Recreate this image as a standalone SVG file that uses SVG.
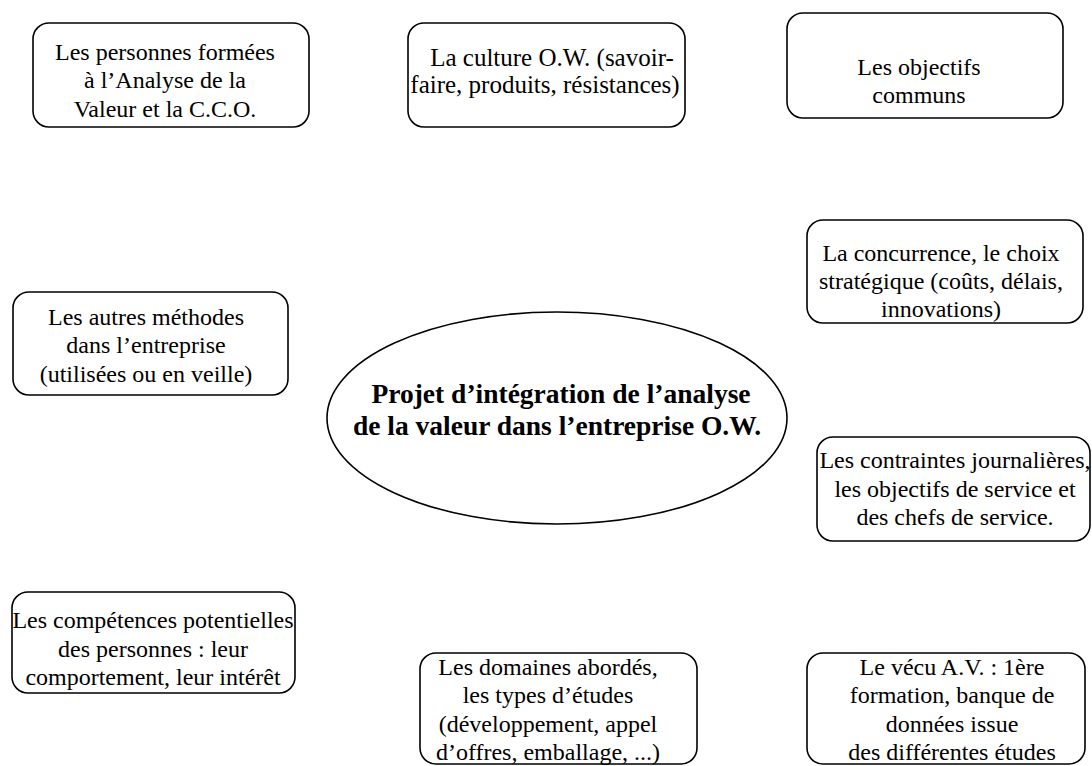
<svg xmlns="http://www.w3.org/2000/svg" width="1092" height="766" viewBox="0 0 1092 766">
<style>
.box{fill:#fff;stroke:#000;stroke-width:1.6}
.t{font-family:"Liberation Serif","Times New Roman",serif;font-size:24px;fill:#000;text-anchor:middle}
.b{font-family:"Liberation Serif","Times New Roman",serif;font-size:27.5px;font-weight:bold;fill:#000;text-anchor:middle}
</style>
<rect width="1092" height="766" fill="#fff"/>
<g id="connectors"></g>
<g id="n1"><rect class="box" x="33" y="23" width="276" height="104" rx="16"/>
<text class="t" x="165" y="60">Les personnes formées</text>
<text class="t" x="165" y="88">à l’Analyse de la</text>
<text class="t" x="165" y="117">Valeur et la C.C.O.</text></g>
<g id="n2"><rect class="box" x="408" y="23" width="277" height="104" rx="16"/>
<text class="t" x="552" y="66" style="font-size:25px">La culture O.W. (savoir-</text>
<text class="t" x="545" y="93" style="font-size:25px">faire, produits, résistances)</text></g>
<g id="n3"><rect class="box" x="787" y="13" width="276" height="105" rx="16"/>
<text class="t" x="919" y="75">Les objectifs</text>
<text class="t" x="919" y="103">communs</text></g>
<g id="n4"><rect class="box" x="807" y="220" width="276" height="103" rx="16"/>
<text class="t" x="941" y="261">La concurrence, le choix</text>
<text class="t" x="941" y="289">stratégique (coûts, délais,</text>
<text class="t" x="941" y="317">innovations)</text></g>
<g id="n5"><rect class="box" x="13" y="292" width="275" height="103" rx="16"/>
<text class="t" x="146" y="325">Les autres méthodes</text>
<text class="t" x="146" y="353">dans l’entreprise</text>
<text class="t" x="146" y="382">(utilisées ou en veille)</text></g>
<g id="center"><ellipse class="box" cx="557" cy="418" rx="230" ry="106"/>
<text class="b" x="561" y="403">Projet d’intégration de l’analyse</text>
<text class="b" x="557" y="435">de la valeur dans l’entreprise O.W.</text></g>
<g id="n6"><rect class="box" x="817" y="437" width="273" height="104" rx="16"/>
<text class="t" x="955" y="468">Les contraintes journalières,</text>
<text class="t" x="955" y="497">les objectifs de service et</text>
<text class="t" x="955" y="525">des chefs de service.</text></g>
<g id="n7"><rect class="box" x="12" y="592" width="283" height="101" rx="16"/>
<text class="t" x="153" y="628">Les compétences potentielles</text>
<text class="t" x="153" y="657">des personnes : leur</text>
<text class="t" x="153" y="685">comportement, leur intérêt</text></g>
<g id="n8"><rect class="box" x="420" y="653" width="277" height="111" rx="16"/>
<text class="t" x="548" y="675">Les domaines abordés,</text>
<text class="t" x="548" y="703">les types d’études</text>
<text class="t" x="548" y="732">(développement, appel</text>
<text class="t" x="548" y="760">d’offres, emballage, ...)</text></g>
<g id="n9"><rect class="box" x="807" y="653" width="278" height="111" rx="16"/>
<text class="t" x="952" y="675">Le vécu A.V. : 1ère</text>
<text class="t" x="952" y="703">formation, banque de</text>
<text class="t" x="952" y="732">données issue</text>
<text class="t" x="952" y="760">des différentes études</text></g>
</svg>
